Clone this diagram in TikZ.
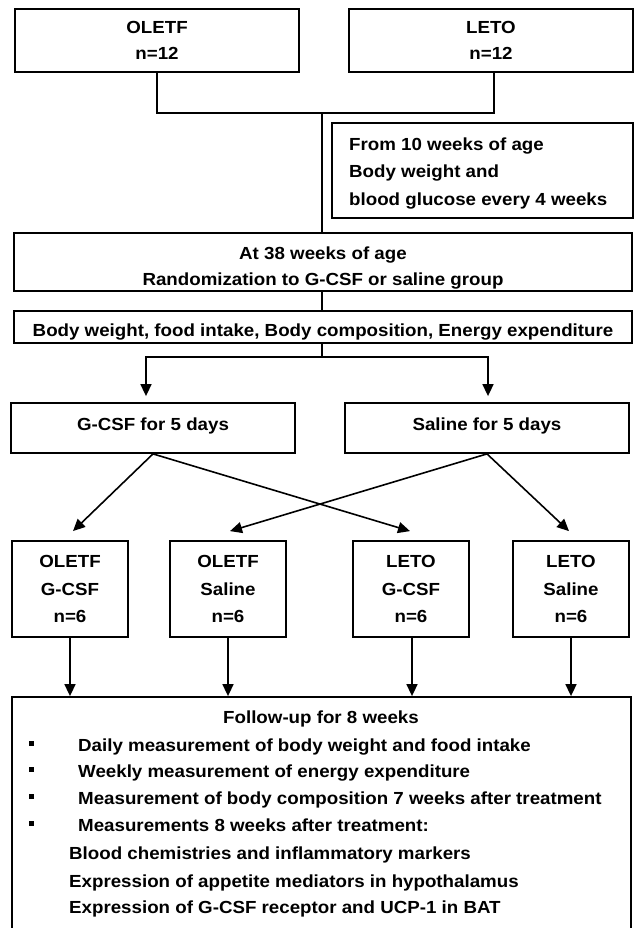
\documentclass[tikz,border=0pt]{standalone}
\usepackage{fontspec}
\setmainfont{Liberation Sans}[FakeStretch=1.07]
\usetikzlibrary{arrows.meta}
\begin{document}
\begin{tikzpicture}[x=1pt,y=-1pt,
  font=\fontsize{17.5}{27.5}\selectfont\bfseries,
  box/.style={draw,line width=1.8pt,inner sep=0pt},
  grp/.style={box,minimum width=116pt,minimum height=96pt},
  conn/.style={line width=1.6pt},
  arr/.style={line width=1.6pt,-{Triangle[length=12pt,width=11pt]}},
  lbl/.style={inner sep=0pt,anchor=base},
  txt/.style={inner sep=0pt,anchor=base west},
  bul/.style={fill,inner sep=0pt,minimum size=5pt}]
\useasboundingbox (0,0) rectangle (634,928);
\clip (0,0) rectangle (634,928);
% top row
\node[box,minimum width=284pt,minimum height=63pt] (oletf) at (157,40.5) {};
\node[lbl] (oletf1) at (157,34) {OLETF};
\node[lbl] (oletf2) at (157,60) {n=12};
\node[box,minimum width=284pt,minimum height=63pt] (leto) at (491,40.5) {};
\node[lbl] (leto1) at (491,34) {LETO};
\node[lbl] (leto2) at (491,60) {n=12};
\coordinate (j) at (322,113);
\draw[conn] (oletf.south) |- (j) -| ([xshift=3pt]leto.south);
\node[box,minimum width=301pt,minimum height=95pt] (from) at (482.5,170.5) {};
\node[txt] (from1) at (349,151) {From 10 weeks of age};
\node[txt] (from2) at (349,178) {Body weight and};
\node[txt] (from3) at (349,205) {blood glucose every 4 weeks};
\node[box,minimum width=618pt,minimum height=58pt] (at38) at (323,262) {};
\node[lbl] (at1) at (323,259) {At 38 weeks of age};
\node[lbl] (at2) at (323,285) {Randomization to G-CSF or saline group};
\draw[conn] (j) -- (j |- at38.north);
\node[box,minimum width=618pt,minimum height=32pt] (bw) at (323,327) {};
\node[lbl] (bw1) at (323,336) {Body weight, food intake, Body composition, Energy expenditure};
\draw[conn] (at38.south -| j) -- (bw.north -| j);
% treatment boxes
\node[box,minimum width=284pt,minimum height=50pt] (gcsf) at (153,428) {};
\node[lbl] (gcsf1) at (153,430) {G-CSF for 5 days};
\node[box,minimum width=284pt,minimum height=50pt] (sal) at (487,428) {};
\node[lbl] (sal1) at (487,430) {Saline for 5 days};
\coordinate (k) at (322,357);
\draw[conn] (bw.south -| k) -- (k);
\draw[arr,shorten >=6pt] (k) -| ([xshift=-7pt]gcsf.north);
\draw[arr,shorten >=6pt] (k) -| ([xshift=1pt]sal.north);
% group boxes
\node[grp] (g1) at (70,589) {};
\node[grp] (g2) at (228,589) {};
\node[grp] (g3) at (411,589) {};
\node[grp] (g4) at (571,589) {};
\node[lbl] (g1a) at (70,567) {OLETF};
\node[lbl] (g1b) at (70,595) {G-CSF};
\node[lbl] (g1c) at (70,622.5) {n=6};
\node[lbl] (g2a) at (228,567) {OLETF};
\node[lbl] (g2b) at (228,595) {Saline};
\node[lbl] (g2c) at (228,622.5) {n=6};
\node[lbl] (g3a) at (411,567) {LETO};
\node[lbl] (g3b) at (411,595) {G-CSF};
\node[lbl] (g3c) at (411,622.5) {n=6};
\node[lbl] (g4a) at (571,567) {LETO};
\node[lbl] (g4b) at (571,595) {Saline};
\node[lbl] (g4c) at (571,622.5) {n=6};
\draw[arr] (gcsf.south) -- ([xshift=3pt,yshift=9pt]g1.north);
\draw[arr] (gcsf.south) -- ([xshift=-1pt,yshift=9pt]g3.north);
\draw[arr] (sal.south) -- ([xshift=2pt,yshift=9pt]g2.north);
\draw[arr] (sal.south) -- ([xshift=-2pt,yshift=9pt]g4.north);
% follow-up box
\node[box,minimum width=619pt,minimum height=243pt] (big) at (321.5,818.5) {};
\draw[arr] (g1.south) -- (g1.south |- big.north);
\draw[arr] (g2.south) -- (g2.south |- big.north);
\draw[arr] ([xshift=1pt]g3.south) -- ([xshift=1pt]g3.south |- big.north);
\draw[arr] (g4.south) -- (g4.south |- big.north);
\node[lbl] (t0) at (321,723) {Follow-up for 8 weeks};
\node[bul] (b1) at (31.5,743.5) {};
\node[txt] (t1) at (78,751) {Daily measurement of body weight and food intake};
\node[bul] (b2) at (31.5,769.5) {};
\node[txt] (t2) at (78,777) {Weekly measurement of energy expenditure};
\node[bul] (b3) at (31.5,796.5) {};
\node[txt] (t3) at (78,804) {Measurement of body composition 7 weeks after treatment};
\node[bul] (b4) at (31.5,823.5) {};
\node[txt] (t4) at (78,831) {Measurements 8 weeks after treatment:};
\node[txt] (t5) at (69,859) {Blood chemistries and inflammatory markers};
\node[txt] (t6) at (69,887) {Expression of appetite mediators in hypothalamus};
\node[txt] (t7) at (69,913) {Expression of G-CSF receptor and UCP-1 in BAT};
\end{tikzpicture}
\end{document}
